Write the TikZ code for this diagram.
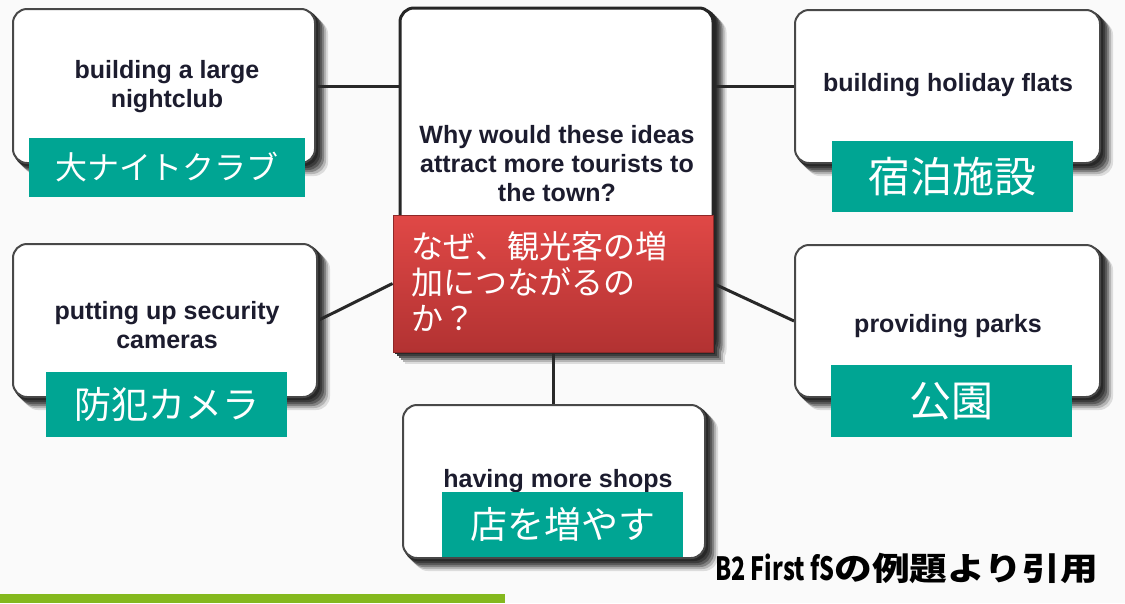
\documentclass[tikz,border=0pt]{standalone}
\usepackage{fontspec}
\setmainfont{Liberation Sans}
\newfontfamily\jp{Noto Sans CJK JP}

\definecolor{pagebg}{RGB}{250,250,250}
\definecolor{tealbox}{RGB}{0,165,147}
\definecolor{redtop}{RGB}{224,72,70}
\definecolor{redbot}{RGB}{178,50,50}
\definecolor{ink}{RGB}{28,28,46}
\definecolor{edge}{RGB}{72,72,72}
\definecolor{leaf}{RGB}{132,184,29}
\definecolor{wire}{RGB}{40,40,40}

\pgfdeclarelayer{bglayer}
\pgfdeclarelayer{shades}
\pgfdeclarelayer{wires}
\pgfsetlayers{bglayer,shades,wires,main}

\tikzset{
  idea/.style={rectangle, draw=edge, line width=2pt, fill=white,
      rounded corners=14pt, inner sep=0pt},
  question/.style={idea, draw=black!85, line width=3pt},
  redbox/.style={rectangle, draw=redbot!80!black, line width=0.8pt,
      top color=redtop, bottom color=redbot, inner sep=0pt},
  tag/.style={rectangle, fill=tealbox, inner sep=0pt, text=white},
  en/.style={font=\fontsize{25}{29}\selectfont\bfseries, text=ink,
      align=center, inner sep=0pt},
  wireline/.style={draw=wire, line width=3pt},
  shadecopy/.style={fill=black!#1!pagebg, draw=none},
}

\begin{document}
\begin{tikzpicture}[x=1pt, y=-1pt]
  % page
  \begin{pgfonlayer}{bglayer}
    \fill[pagebg] (0,0) rectangle (1125,603);
  \end{pgfonlayer}
  \useasboundingbox (0,0) rectangle (1125,603);

  % idea boxes
  \node[idea, minimum width=302pt, minimum height=154pt] (tl) at (164,86) {};
  \node[question, minimum width=313pt, minimum height=342pt] (ctr) at (556.5,179) {};
  \node[idea, minimum width=305pt, minimum height=153pt] (tr) at (947.5,86.5) {};
  \node[idea, minimum width=304pt, minimum height=153pt] (ml) at (165,320.5) {};
  \node[idea, minimum width=305pt, minimum height=152pt] (mr) at (947.5,321) {};
  \node[idea, minimum width=302pt, minimum height=153pt] (bt) at (554,481.5) {};

  % English texts
  \node[en] (tltext) at (167,87) {building a large\\nightclub};
  \node[en] (ctrtext) at (557,164) {Why would these ideas\\attract more tourists to\\the town?};
  \node[en] (trtext) at (948,85) {building holiday flats};
  \node[en] (mltext) at (167,325) {putting up security\\cameras};
  \node[en] (mrtext) at (948,326) {providing parks};
  \node[en] (bttext) at (558,481) {having more shops};

  % red question banner
  \node[redbox, minimum width=320pt, minimum height=137pt] (red) at (553,283.5) {};
  \node[anchor=north west, inner sep=0pt, align=left, text=white,
        font=\jp\fontsize{32}{36}\selectfont] (redtext) at (411,231)
        {なぜ、観光客の増\\加につながるの\\か？};

  % teal translation tags
  \node[tag, minimum width=276pt, minimum height=59pt,
        font=\jp\fontsize{32}{36}\selectfont] (t1) at (167,167.5) {大ナイトクラブ};
  \node[tag, minimum width=241pt, minimum height=71pt,
        font=\jp\fontsize{42}{46}\selectfont] (t2) at (952.5,176.5) {宿泊施設};
  \node[tag, minimum width=241pt, minimum height=65pt,
        font=\jp\fontsize{37}{40}\selectfont] (t3) at (166.5,404.5) {防犯カメラ};
  \node[tag, minimum width=241pt, minimum height=72pt,
        font=\jp\fontsize{42}{46}\selectfont] (t4) at (951.5,401) {公園};
  \node[tag, minimum width=241pt, minimum height=65pt,
        font=\jp\fontsize{37}{40}\selectfont] (t5) at (562.5,524.5) {店を増やす};

  % soft shadows: solid grey copies, farthest and palest first
  \begin{pgfonlayer}{shades}
    \foreach \k/\s in {12/12,10/28,8/48,6/64,4/76,2/84}{
      \foreach \b in {tl,ctr,tr,ml,mr,bt}
        \fill[shadecopy=\s, rounded corners=14pt]
          ([shift={(\k,\k)}]\b.north west) rectangle ([shift={(\k,\k)}]\b.south east);
      \fill[shadecopy=\s]
        ([shift={(\k,\k)}]red.north west) rectangle ([shift={(\k,\k)}]red.south east);
    }
  \end{pgfonlayer}

  % connectors
  \begin{pgfonlayer}{wires}
    \draw[wireline] (tl.east) -- (tl.east -| ctr.west);
    \draw[wireline] (ctr.east |- tr.west) -- (tr.west);
    \draw[wireline] (ml.east) -- (red.west);
    \draw[wireline] (red.east) -- (mr.west);
    \draw[wireline] (red.south) -- (red.south |- bt.north);
  \end{pgfonlayer}

  % source note and footer bar
  \node[inner sep=0pt, font=\jp\fontsize{32}{36}\selectfont\bfseries] (src) at (906.5,568)
    {\scalebox{0.73}[1]{B2 First fS}\scalebox{1.18}[1]{の例題より引用}};
  \fill[leaf] (0,594) rectangle (505,603);
\end{tikzpicture}
\end{document}
